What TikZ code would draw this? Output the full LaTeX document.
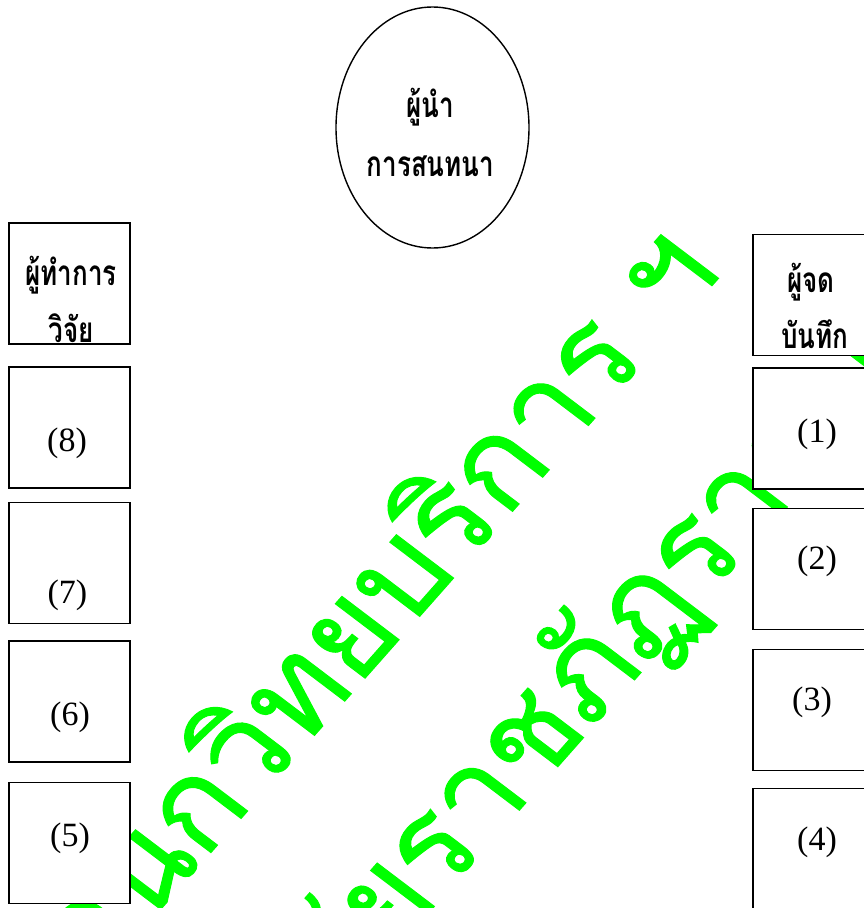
\documentclass[tikz,border=0pt]{standalone}
\usepackage{fontspec}
\setmainfont{Liberation Serif}
\newfontfamily\thaifont[Script=Thai]{Loma}
\newfontfamily\wmfont[Script=Thai, FakeBold=0.8]{Loma}
\usetikzlibrary{shapes.geometric}
\definecolor{wmgreen}{RGB}{0,255,0}
\begin{document}
\begin{tikzpicture}[x=1pt,y=-1pt,
  box/.style={draw=black, line width=1.6pt, fill=white, minimum width=121pt, minimum height=121pt, inner sep=0pt},
  lead/.style={draw=black, line width=1.4pt, ellipse, minimum width=193pt, minimum height=241pt, inner sep=0pt},
  num/.style={anchor=base, inner sep=0pt, font=\fontsize{34}{40}\selectfont},
  thai/.style={anchor=base, inner sep=0pt, transform shape, yscale=1.35, font=\thaifont\bfseries\fontsize{26}{30}\selectfont},
  wm/.style={anchor=base west, inner sep=0pt, text=wmgreen, transform shape, xscale=1.08, rotate=50.7, font=\wmfont\fontsize{123}{123}\selectfont}]
\useasboundingbox (0,0) rectangle (864,908);
% watermark
\node[wm] (wm1) at (47,1038) {สำนักวิทยบริการ ฯ};
\node[wm] (wm2) at (-17,1417) {มหาวิทยาลัยราชภัฏราชนครินทร์};
% leader
\node[lead] (lead) at (432.5,127.5) {};
\node[thai] (leadA) at (430,117) {ผู้นำ};
\node[thai] (leadB) at (430.5,176) {การสนทนา};
% left column
\node[box] (res) at (69.5,283.5) {};
\node[thai] (resA) at (71,285) {ผู้ทำการ};
\node[thai] (resB) at (71.5,342) {วิจัย};
\node[box] (b8) at (69.5,427.5) {};
\node[num] (t8) at (67,451) {(8)};
\node[box] (b7) at (69.5,563) {};
\node[num] (t7) at (67.5,603) {(7)};
\node[box] (b6) at (69.5,701.5) {};
\node[num] (t6) at (70,725) {(6)};
\node[box] (b5) at (69.5,843) {};
\node[num] (t5) at (70,846) {(5)};
% right column
\node[box] (note) at (813.5,295) {};
\node[thai] (noteA) at (811,292) {ผู้จด};
\node[thai] (noteB) at (815,348) {บันทึก};
\node[box] (b1) at (813.5,428.5) {};
\node[num] (t1) at (817,442) {(1)};
\node[box] (b2) at (813.5,569) {};
\node[num] (t2) at (817,569) {(2)};
\node[box] (b3) at (813.5,710) {};
\node[num] (t3) at (812,710) {(3)};
\node[box] (b4) at (813.5,849) {};
\node[num] (t4) at (817,850) {(4)};
\end{tikzpicture}
\end{document}
